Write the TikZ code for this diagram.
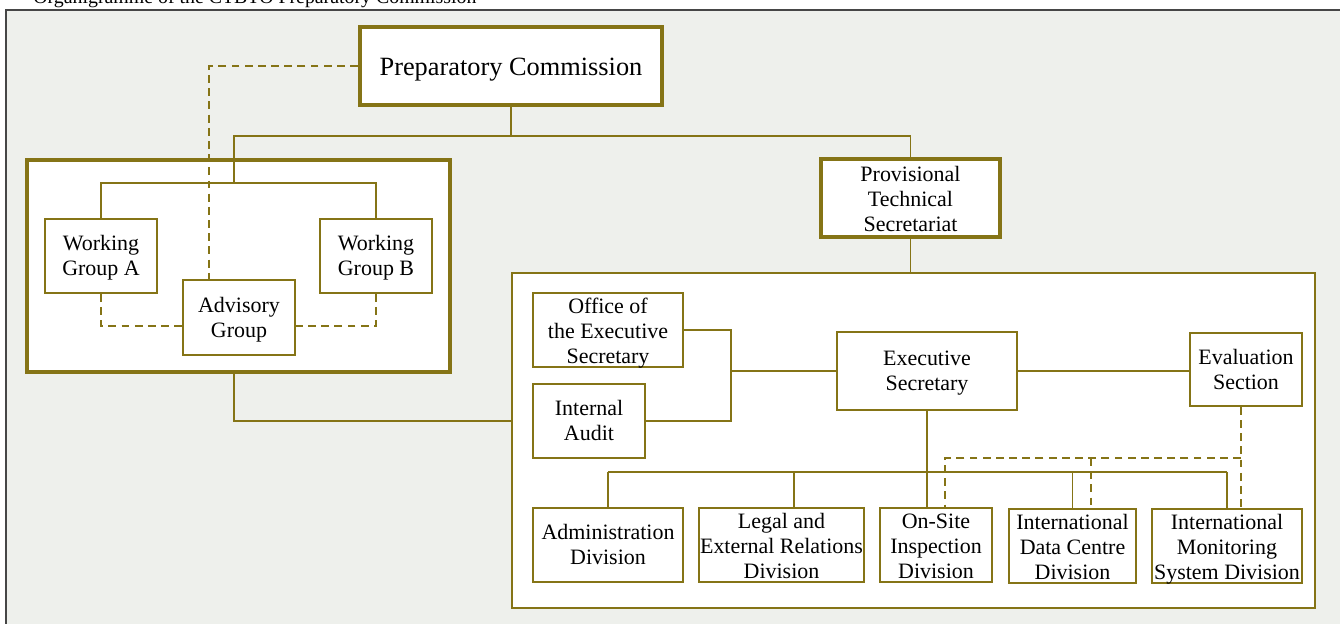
\documentclass[tikz,border=0pt]{standalone}
\usepackage{fontspec}
\setmainfont{Liberation Serif}
\usepackage{tikz}

\definecolor{olivebrown}{RGB}{133,116,22}
\definecolor{pagegrey}{RGB}{238,240,236}
\definecolor{rulegrey}{RGB}{70,70,70}

\begin{document}
\begin{tikzpicture}[x=0.02cm,y=-0.02cm,
  link/.style={olivebrown,line width=0.8pt},
  advice/.style={link,dash pattern=on 4.5pt off 3pt},
  base node/.style={draw=olivebrown,fill=white,align=center,inner sep=0pt},
  unit node/.style={base node,line width=1pt,font=\fontsize{12.5}{14.3}\selectfont,
    minimum width=2.24cm,minimum height=1.48cm,text height=25.6pt,text depth=3pt},
  three lines/.style={text height=39.9pt,text depth=2pt},
  head node/.style={unit node,line width=2.3pt}]

  \clip (0,0) rectangle (1340,624);
  \fill[white] (0,0) rectangle (1340,624);
  \draw[fill=pagegrey,draw=rulegrey,line width=0.8pt] (6,10) rectangle (1400,700);
  \node[anchor=base west,inner sep=0pt,font=\fontsize{11.3}{13}\selectfont] (caption)
    at (33,3.5) {Organigramme of the CTBTO Preparatory Commission};

  \node[head node,minimum width=8.46cm,minimum height=4.24cm] (groups) at (238.5,266) {};
  \node[unit node,minimum width=16.06cm,minimum height=6.7cm] (secr) at (913.5,440.5) {};

  \node[base node,line width=2.3pt,minimum width=6.04cm,minimum height=1.56cm,
    font=\fontsize{15}{18}\selectfont,text height=14pt,text depth=2.7pt]
    (pc) at (511,66) {Preparatory Commission};
  \node[head node,three lines,minimum width=3.58cm,minimum height=1.56cm] (pts)
    at (910.5,198) {Provisional\\Technical\\Secretariat};

  \node[unit node] (wga) at (101,256) {Working\\Group A};
  \node[unit node] (wgb) at (376,256) {Working\\Group B};
  \node[unit node,minimum height=1.5cm] (ag) at (239,317.5) {Advisory\\Group};

  \node[unit node,three lines,minimum width=3cm] (oes) at (608,330)
    {Office of\\the Executive\\Secretary};
  \node[unit node] (ia) at (589,421) {Internal\\Audit};
  \node[unit node,minimum width=3.6cm,minimum height=1.56cm] (es) at (927,371)
    {Executive\\Secretary};
  \node[unit node,minimum height=1.46cm] (eval) at (1246,369.5) {Evaluation\\Section};

  \node[unit node,minimum width=3cm] (adm) at (608,545) {Administration\\Division};
  \node[unit node,three lines,minimum width=3.3cm] (ler) at (781.5,545)
    {Legal and\\External Relations\\Division};
  \node[unit node,three lines] (osi) at (936,545) {On-Site\\Inspection\\Division};
  \node[unit node,three lines,minimum width=2.54cm] (idc) at (1072.5,546)
    {International\\Data Centre\\Division};
  \node[unit node,three lines,minimum width=3cm] (ims) at (1227,546)
    {International\\Monitoring\\System Division};

  \coordinate (wgbus) at (234,183);
  \coordinate (staffbus) at (731,371);
  \coordinate (divbus) at (604,472);
  \coordinate (evalbus) at (1241,458);

  \draw[link] (pc.south) -- ++(0,29) coordinate (commbus);
  \draw[link] (commbus) -| (pts.north);
  \draw[link] (commbus) -| (wgbus);
  \draw[link] (wga.north) |- (wgbus) -| (wgb.north);
  \draw[link] (wgbus |- groups.south) |- (secr.west |- ia);
  \draw[link] (pts.south) -- (pts.south |- secr.north);

  \draw[advice] (pc.west) -| ([xshift=-0.6cm]ag.north);
  \draw[advice] (wga.south) |- ([yshift=-0.17cm]ag.west);
  \draw[advice] (wgb.south) |- ([yshift=-0.17cm]ag.east);

  \draw[link] (oes.east) -| (staffbus) |- (ia.east);
  \draw[link] (staffbus) -- (es.west);
  \draw[link] (es.east) -- (eval.west |- es.east);
  \draw[link] (es.south) -- (es.south |- osi.north);
  \draw[link] (adm.north |- divbus) -- (ims.north |- divbus);
  \foreach \unit/\dx in {adm/0,ler/0.25,idc/0,ims/0}
    \draw[link] ([xshift=\dx cm]\unit.north) -- ([xshift=\dx cm]\unit.north |- divbus);

  \draw[advice] ([xshift=-0.1cm]eval.south) -- ([xshift=-0.1cm]eval.south |- ims.north);
  \draw[advice] (evalbus) -| ([xshift=0.18cm]osi.north);
  \draw[advice] ([xshift=0.37cm]idc.north |- evalbus) -- ([xshift=0.37cm]idc.north);
\end{tikzpicture}
\end{document}
